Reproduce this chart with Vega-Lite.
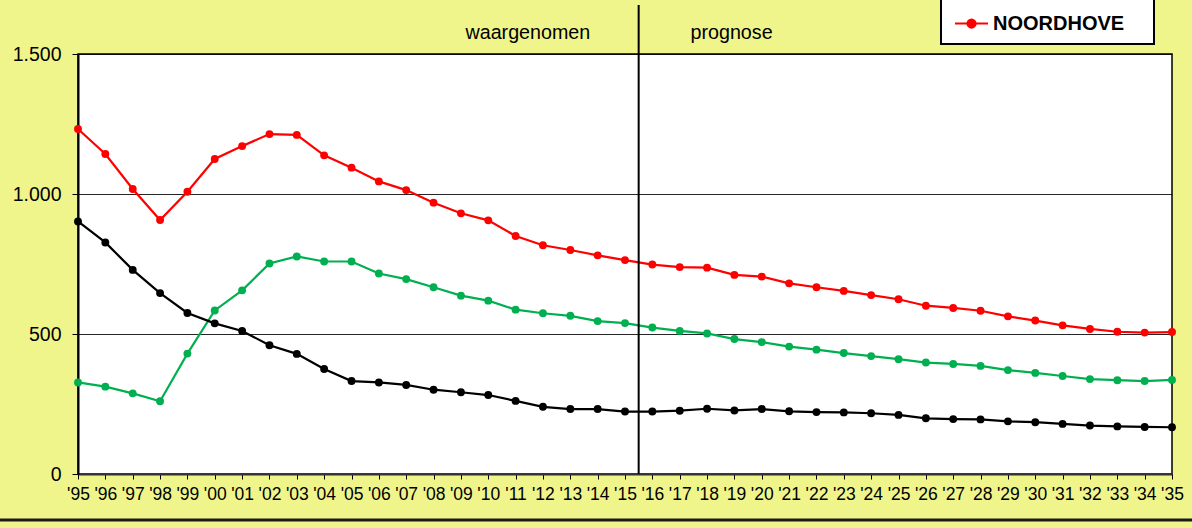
{
  "$schema": "https://vega.github.io/schema/vega-lite/v6.json",
  "width": 1094,
  "height": 420,
  "autosize": "none",
  "padding": {"left": 78, "top": 54, "right": 20, "bottom": 54},
  "background": "#EFF58B",
  "config": {
    "font": "Liberation Sans",
    "view": {"fill": "white", "stroke": "black", "strokeWidth": 1.5},
    "legend": {"strokeWidth": 2},
    "locale": {"number": {"decimal": ",", "thousands": ".", "grouping": [3], "currency": ["€ ", ""]}}
  },
  "datasets": {
    "reeksen": [
      {"jaar": "1995", "gebied": "NOORDHOVE", "waarde": 1232},
      {"jaar": "1996", "gebied": "NOORDHOVE", "waarde": 1143},
      {"jaar": "1997", "gebied": "NOORDHOVE", "waarde": 1018},
      {"jaar": "1998", "gebied": "NOORDHOVE", "waarde": 907},
      {"jaar": "1999", "gebied": "NOORDHOVE", "waarde": 1008},
      {"jaar": "2000", "gebied": "NOORDHOVE", "waarde": 1125},
      {"jaar": "2001", "gebied": "NOORDHOVE", "waarde": 1171},
      {"jaar": "2002", "gebied": "NOORDHOVE", "waarde": 1214},
      {"jaar": "2003", "gebied": "NOORDHOVE", "waarde": 1211},
      {"jaar": "2004", "gebied": "NOORDHOVE", "waarde": 1138},
      {"jaar": "2005", "gebied": "NOORDHOVE", "waarde": 1094},
      {"jaar": "2006", "gebied": "NOORDHOVE", "waarde": 1045},
      {"jaar": "2007", "gebied": "NOORDHOVE", "waarde": 1014},
      {"jaar": "2008", "gebied": "NOORDHOVE", "waarde": 969},
      {"jaar": "2009", "gebied": "NOORDHOVE", "waarde": 931},
      {"jaar": "2010", "gebied": "NOORDHOVE", "waarde": 906},
      {"jaar": "2011", "gebied": "NOORDHOVE", "waarde": 850},
      {"jaar": "2012", "gebied": "NOORDHOVE", "waarde": 817},
      {"jaar": "2013", "gebied": "NOORDHOVE", "waarde": 800},
      {"jaar": "2014", "gebied": "NOORDHOVE", "waarde": 781},
      {"jaar": "2015", "gebied": "NOORDHOVE", "waarde": 764},
      {"jaar": "2016", "gebied": "NOORDHOVE", "waarde": 748},
      {"jaar": "2017", "gebied": "NOORDHOVE", "waarde": 739},
      {"jaar": "2018", "gebied": "NOORDHOVE", "waarde": 737},
      {"jaar": "2019", "gebied": "NOORDHOVE", "waarde": 711},
      {"jaar": "2020", "gebied": "NOORDHOVE", "waarde": 705},
      {"jaar": "2021", "gebied": "NOORDHOVE", "waarde": 681},
      {"jaar": "2022", "gebied": "NOORDHOVE", "waarde": 667},
      {"jaar": "2023", "gebied": "NOORDHOVE", "waarde": 654},
      {"jaar": "2024", "gebied": "NOORDHOVE", "waarde": 639},
      {"jaar": "2025", "gebied": "NOORDHOVE", "waarde": 624},
      {"jaar": "2026", "gebied": "NOORDHOVE", "waarde": 601},
      {"jaar": "2027", "gebied": "NOORDHOVE", "waarde": 593},
      {"jaar": "2028", "gebied": "NOORDHOVE", "waarde": 583},
      {"jaar": "2029", "gebied": "NOORDHOVE", "waarde": 563},
      {"jaar": "2030", "gebied": "NOORDHOVE", "waarde": 548},
      {"jaar": "2031", "gebied": "NOORDHOVE", "waarde": 531},
      {"jaar": "2032", "gebied": "NOORDHOVE", "waarde": 518},
      {"jaar": "2033", "gebied": "NOORDHOVE", "waarde": 508},
      {"jaar": "2034", "gebied": "NOORDHOVE", "waarde": 505},
      {"jaar": "2035", "gebied": "NOORDHOVE", "waarde": 507},
      {"jaar": "1995", "gebied": "reeks 2", "waarde": 327},
      {"jaar": "1996", "gebied": "reeks 2", "waarde": 312},
      {"jaar": "1997", "gebied": "reeks 2", "waarde": 288},
      {"jaar": "1998", "gebied": "reeks 2", "waarde": 260},
      {"jaar": "1999", "gebied": "reeks 2", "waarde": 430},
      {"jaar": "2000", "gebied": "reeks 2", "waarde": 584},
      {"jaar": "2001", "gebied": "reeks 2", "waarde": 656},
      {"jaar": "2002", "gebied": "reeks 2", "waarde": 752},
      {"jaar": "2003", "gebied": "reeks 2", "waarde": 777},
      {"jaar": "2004", "gebied": "reeks 2", "waarde": 759},
      {"jaar": "2005", "gebied": "reeks 2", "waarde": 759},
      {"jaar": "2006", "gebied": "reeks 2", "waarde": 716},
      {"jaar": "2007", "gebied": "reeks 2", "waarde": 696},
      {"jaar": "2008", "gebied": "reeks 2", "waarde": 667},
      {"jaar": "2009", "gebied": "reeks 2", "waarde": 637},
      {"jaar": "2010", "gebied": "reeks 2", "waarde": 619},
      {"jaar": "2011", "gebied": "reeks 2", "waarde": 587},
      {"jaar": "2012", "gebied": "reeks 2", "waarde": 574},
      {"jaar": "2013", "gebied": "reeks 2", "waarde": 565},
      {"jaar": "2014", "gebied": "reeks 2", "waarde": 546},
      {"jaar": "2015", "gebied": "reeks 2", "waarde": 539},
      {"jaar": "2016", "gebied": "reeks 2", "waarde": 523},
      {"jaar": "2017", "gebied": "reeks 2", "waarde": 511},
      {"jaar": "2018", "gebied": "reeks 2", "waarde": 502},
      {"jaar": "2019", "gebied": "reeks 2", "waarde": 482},
      {"jaar": "2020", "gebied": "reeks 2", "waarde": 471},
      {"jaar": "2021", "gebied": "reeks 2", "waarde": 455},
      {"jaar": "2022", "gebied": "reeks 2", "waarde": 444},
      {"jaar": "2023", "gebied": "reeks 2", "waarde": 432},
      {"jaar": "2024", "gebied": "reeks 2", "waarde": 421},
      {"jaar": "2025", "gebied": "reeks 2", "waarde": 410},
      {"jaar": "2026", "gebied": "reeks 2", "waarde": 398},
      {"jaar": "2027", "gebied": "reeks 2", "waarde": 393},
      {"jaar": "2028", "gebied": "reeks 2", "waarde": 386},
      {"jaar": "2029", "gebied": "reeks 2", "waarde": 371},
      {"jaar": "2030", "gebied": "reeks 2", "waarde": 361},
      {"jaar": "2031", "gebied": "reeks 2", "waarde": 350},
      {"jaar": "2032", "gebied": "reeks 2", "waarde": 339},
      {"jaar": "2033", "gebied": "reeks 2", "waarde": 335},
      {"jaar": "2034", "gebied": "reeks 2", "waarde": 332},
      {"jaar": "2035", "gebied": "reeks 2", "waarde": 336},
      {"jaar": "1995", "gebied": "reeks 3", "waarde": 902},
      {"jaar": "1996", "gebied": "reeks 3", "waarde": 827},
      {"jaar": "1997", "gebied": "reeks 3", "waarde": 729},
      {"jaar": "1998", "gebied": "reeks 3", "waarde": 646},
      {"jaar": "1999", "gebied": "reeks 3", "waarde": 575},
      {"jaar": "2000", "gebied": "reeks 3", "waarde": 538},
      {"jaar": "2001", "gebied": "reeks 3", "waarde": 511},
      {"jaar": "2002", "gebied": "reeks 3", "waarde": 460},
      {"jaar": "2003", "gebied": "reeks 3", "waarde": 429},
      {"jaar": "2004", "gebied": "reeks 3", "waarde": 375},
      {"jaar": "2005", "gebied": "reeks 3", "waarde": 332},
      {"jaar": "2006", "gebied": "reeks 3", "waarde": 327},
      {"jaar": "2007", "gebied": "reeks 3", "waarde": 318},
      {"jaar": "2008", "gebied": "reeks 3", "waarde": 301},
      {"jaar": "2009", "gebied": "reeks 3", "waarde": 292},
      {"jaar": "2010", "gebied": "reeks 3", "waarde": 282},
      {"jaar": "2011", "gebied": "reeks 3", "waarde": 261},
      {"jaar": "2012", "gebied": "reeks 3", "waarde": 240},
      {"jaar": "2013", "gebied": "reeks 3", "waarde": 232},
      {"jaar": "2014", "gebied": "reeks 3", "waarde": 232},
      {"jaar": "2015", "gebied": "reeks 3", "waarde": 223},
      {"jaar": "2016", "gebied": "reeks 3", "waarde": 223},
      {"jaar": "2017", "gebied": "reeks 3", "waarde": 226},
      {"jaar": "2018", "gebied": "reeks 3", "waarde": 233},
      {"jaar": "2019", "gebied": "reeks 3", "waarde": 227},
      {"jaar": "2020", "gebied": "reeks 3", "waarde": 232},
      {"jaar": "2021", "gebied": "reeks 3", "waarde": 224},
      {"jaar": "2022", "gebied": "reeks 3", "waarde": 221},
      {"jaar": "2023", "gebied": "reeks 3", "waarde": 220},
      {"jaar": "2024", "gebied": "reeks 3", "waarde": 217},
      {"jaar": "2025", "gebied": "reeks 3", "waarde": 211},
      {"jaar": "2026", "gebied": "reeks 3", "waarde": 199},
      {"jaar": "2027", "gebied": "reeks 3", "waarde": 196},
      {"jaar": "2028", "gebied": "reeks 3", "waarde": 195},
      {"jaar": "2029", "gebied": "reeks 3", "waarde": 188},
      {"jaar": "2030", "gebied": "reeks 3", "waarde": 185},
      {"jaar": "2031", "gebied": "reeks 3", "waarde": 179},
      {"jaar": "2032", "gebied": "reeks 3", "waarde": 173},
      {"jaar": "2033", "gebied": "reeks 3", "waarde": 170},
      {"jaar": "2034", "gebied": "reeks 3", "waarde": 168},
      {"jaar": "2035", "gebied": "reeks 3", "waarde": 167}
    ],
    "scheiding": [{"jaar": "2015-07-02T12:00:00Z", "van": 0, "tot": 1675}],
    "periodes": [
      {"jaar": "2011-06-14T00:00:00Z", "waarde": 1575, "tekst": "waargenomen"},
      {"jaar": "2018-11-24T00:00:00Z", "waarde": 1575, "tekst": "prognose"}
    ],
    "rand": [{"van": "1992-02-06T00:00:00Z", "tot": "2035-10-20T00:00:00Z", "waarde": -164}]
  },
  "layer": [
    {
      "data": {"name": "reeksen"},
      "mark": {"type": "line", "strokeWidth": 2.2, "point": {"filled": true, "size": 62, "opacity": 1}},
      "encoding": {
        "x": {
          "field": "jaar", "type": "temporal",
          "scale": {"type": "utc", "domain": [{"year": 1995, "utc": true}, {"year": 2035, "utc": true}], "nice": false},
          "axis": {
            "title": null,
            "tickCount": {"interval": "year", "step": 1},
            "format": "'%y",
            "grid": false,
            "domainColor": "#333333", "domainWidth": 2,
            "tickColor": "black", "tickSize": 5, "tickWidth": 1,
            "labelFontSize": 17.5, "labelColor": "black", "labelPadding": 6,
            "labelAngle": 0, "labelOverlap": false, "labelFlush": false
          }
        },
        "y": {
          "field": "waarde", "type": "quantitative",
          "scale": {"domain": [0, 1500], "nice": false},
          "axis": {
            "title": null,
            "values": [0, 500, 1000, 1500],
            "format": ",.0f",
            "grid": true, "gridColor": "black", "gridWidth": 1, "gridOpacity": 0.85,
            "domainColor": "black", "domainWidth": 2,
            "tickColor": "black", "tickSize": 6, "tickWidth": 1,
            "labelFontSize": 19.5, "labelColor": "black", "labelPadding": 11
          }
        },
        "color": {
          "field": "gebied", "type": "nominal",
          "scale": {"domain": ["NOORDHOVE", "reeks 2", "reeks 3"], "range": ["#FF0000", "#00B050", "#000000"]},
          "legend": {
            "values": ["NOORDHOVE"],
            "title": " ",
            "titleOrient": "right",
            "titlePadding": 20,
            "titleFontSize": 20,
            "orient": "none",
            "legendX": 863,
            "legendY": -58,
            "fillColor": "white",
            "strokeColor": "black",
            "padding": 10,
            "symbolOffset": 3,
            "labelFontSize": 20,
            "labelFontWeight": "bold",
            "labelColor": "black",
            "labelOffset": 4,
            "labelLimit": 400,
            "symbolType": "M-1,0L1,0M-0.25,0A0.25,0.25 0 1 1 0.25,0A0.25,0.25 0 1 1 -0.25,0Z",
            "symbolSize": 1089,
            "symbolStrokeWidth": 2,
            "symbolFillColor": "#FF0000",
            "symbolStrokeColor": "#FF0000"
          }
        }
      }
    },
    {
      "data": {"name": "scheiding"},
      "mark": {"type": "rule", "color": "black", "strokeWidth": 2, "clip": false},
      "encoding": {
        "x": {"field": "jaar", "type": "temporal"},
        "y": {"field": "van", "type": "quantitative"},
        "y2": {"field": "tot"}
      }
    },
    {
      "data": {"name": "periodes"},
      "mark": {"type": "text", "fontSize": 19.7, "color": "black", "align": "center", "baseline": "middle", "clip": false},
      "encoding": {
        "x": {"field": "jaar", "type": "temporal"},
        "y": {"field": "waarde", "type": "quantitative"},
        "text": {"field": "tekst"}
      }
    },
    {
      "data": {"name": "rand"},
      "mark": {"type": "rule", "color": "#1a1a1a", "strokeWidth": 3, "clip": false},
      "encoding": {
        "x": {"field": "van", "type": "temporal"},
        "x2": {"field": "tot"},
        "y": {"field": "waarde", "type": "quantitative"}
      }
    }
  ]
}
